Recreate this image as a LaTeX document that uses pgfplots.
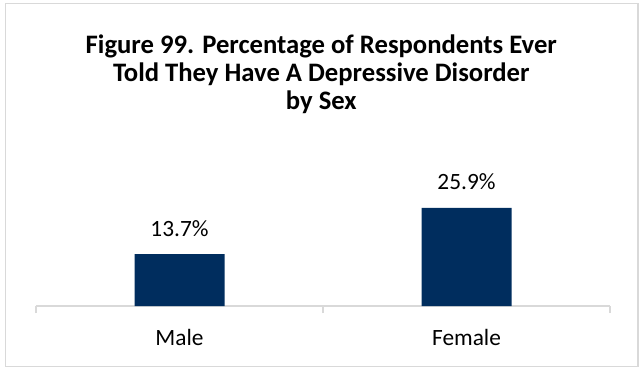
\documentclass[border=0pt]{standalone}
\usepackage{pgfplots}
\pgfplotsset{compat=1.18}
\usepackage{fontspec}
\setmainfont{Carlito}
\definecolor{barblue}{RGB}{0,45,94}
\definecolor{axgray}{RGB}{217,217,217}
\definecolor{framegray}{RGB}{217,217,217}
\begin{document}
\begin{tikzpicture}
\path[use as bounding box] (0,0) rectangle (479.25pt,276pt);
\draw[framegray, line width=1pt] (3.9pt,1.1pt) rectangle (478.5pt,273.4pt);
\begin{scope}[font=\bfseries\fontsize{20}{21}\selectfont]
\node[anchor=base, inner sep=0pt] at (241pt,235.5pt) {Figure 99. Percentage of Respondents Ever};
\node[anchor=base, inner sep=0pt] at (241pt,214.5pt) {Told They Have A Depressive Disorder};
\node[anchor=base, inner sep=0pt] at (241pt,193.5pt) {by Sex};
\end{scope}
\begin{axis}[
  at={(27pt,46.5pt)}, anchor=south west,
  scale only axis, width=430.5pt, height=85.3pt,
  xmin=-0.5, xmax=1.5, ymin=0, ymax=30,
  axis x line*=bottom, axis y line=none,
  axis line style={axgray, line width=1pt, -},
  xtick={0,1}, xticklabels={Male, Female},
  major tick length=0pt,
  minor xtick={-0.5,0.5,1.5},
  minor tick length=5.25pt,
  minor tick style={axgray, line width=1pt},
  xtick align=outside,
  xticklabel style={font=\fontsize{17.5}{20}\selectfont, text=black, anchor=base, yshift=-29.25pt, inner sep=0pt},
  ybar, bar width=67.5pt,
  nodes near coords={\pgfmathprintnumber[fixed,fixed zerofill,precision=1]{\pgfplotspointmeta}\%},
  nodes near coords style={font=\fontsize{17.5}{20}\selectfont, text=black, anchor=base, yshift=13.5pt, inner sep=0pt},
  /pgf/number format/assume math mode=true,
  clip=false,
]
\addplot[fill=barblue, draw=none] coordinates {(0,13.7) (1,25.9)};
\end{axis}
\end{tikzpicture}
\end{document}
